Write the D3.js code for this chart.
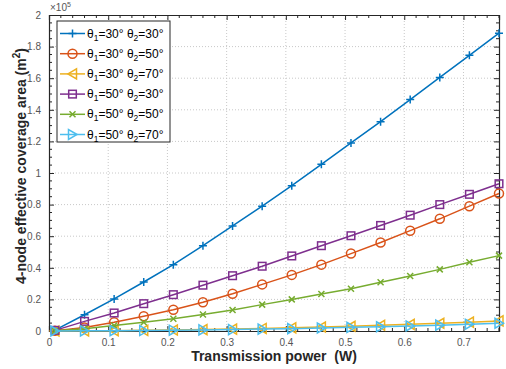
<!DOCTYPE html>
<html>
<head>
<meta charset="utf-8">
<script src="https://cdn.jsdelivr.net/npm/d3@7"></script>
<style>
  body { margin: 0; background: #fff; }
  svg { font-family: "Liberation Sans", Arial, sans-serif; }
</style>
</head>
<body>
<div id="chart"></div>
<script>
// power values (W)
const power = [0.01, 0.06, 0.11, 0.16, 0.21, 0.26, 0.31, 0.36, 0.41, 0.46, 0.51, 0.56, 0.61, 0.66, 0.71, 0.76];

// coverage area, in units of 1e5 m^2
const s30_30 = [0.005, 0.103, 0.203, 0.31, 0.42, 0.54, 0.665, 0.79, 0.92, 1.055, 1.19, 1.325, 1.465, 1.605, 1.745, 1.885];
const s30_50 = [0.002, 0.022, 0.055, 0.093, 0.135, 0.182, 0.236, 0.295, 0.355, 0.42, 0.49, 0.56, 0.635, 0.71, 0.79, 0.87];
const s30_70 = [0.0, 0.001, 0.002, 0.004, 0.006, 0.009, 0.012, 0.016, 0.02, 0.025, 0.03, 0.036, 0.042, 0.049, 0.056, 0.064];
const s50_30 = [0.004, 0.061, 0.114, 0.173, 0.23, 0.29, 0.35, 0.41, 0.475, 0.54, 0.603, 0.668, 0.733, 0.8, 0.865, 0.932];
const s50_50 = [0.001, 0.015, 0.035, 0.055, 0.078, 0.105, 0.133, 0.167, 0.2, 0.234, 0.268, 0.308, 0.348, 0.39, 0.435, 0.477];
const s50_70 = [0.0, 0.001, 0.002, 0.003, 0.005, 0.007, 0.009, 0.012, 0.015, 0.019, 0.023, 0.027, 0.032, 0.037, 0.043, 0.049];

const t1 = ["30", "30", "30", "50", "50", "50"];
const t2 = ["30", "50", "70", "30", "50", "70"];
const colors = ["#0072BD", "#D95319", "#EDB120", "#7E2F8E", "#77AC30", "#4DBEEE"];
const markers = ["plus", "circle", "tleft", "square", "x", "tright"];
const seriesValues = [s30_30, s30_50, s30_70, s50_30, s50_50, s50_70];

const xTicks = [0, 0.1, 0.2, 0.3, 0.4, 0.5, 0.6, 0.7];
const yTicks = [0, 0.2, 0.4, 0.6, 0.8, 1, 1.2, 1.4, 1.6, 1.8, 2];

const W = 506, H = 369;
const pL = 49, pR = 499, pT = 15, pB = 331;

const svg = d3.select("#chart").append("svg")
    .attr("width", W).attr("height", H);

const x = d3.scaleLinear().domain([0, 0.76]).range([pL, pR]);
const y = d3.scaleLinear().domain([0, 2]).range([pB, pT]);

const tickCol = "#262626";

// grid
const grid = svg.append("g")
    .attr("stroke", "#c8c8c8").attr("stroke-width", 1).attr("stroke-dasharray", "1,2");
xTicks.slice(1).forEach(t => {
    grid.append("line").attr("x1", x(t)).attr("x2", x(t)).attr("y1", pT).attr("y2", pB);
});
yTicks.slice(1, -1).forEach(t => {
    grid.append("line").attr("x1", pL).attr("x2", pR).attr("y1", y(t)).attr("y2", y(t));
});

// axes (ticks inward)
const xAxis = d3.axisBottom(x).tickValues(xTicks).tickSize(-5).tickPadding(8)
    .tickFormat(d => d === 0 ? "0" : d3.format(".1f")(d));
const yAxis = d3.axisLeft(y).tickValues(yTicks).tickSize(-5).tickPadding(8)
    .tickFormat(d => d === 0 || d === 1 || d === 2 ? String(d) : d3.format(".1f")(d));

const gx = svg.append("g").attr("transform", `translate(0,${pB})`).call(xAxis);
const gy = svg.append("g").attr("transform", `translate(${pL},0)`).call(yAxis);
const gxTop = svg.append("g").attr("transform", `translate(0,${pT})`)
    .call(d3.axisTop(x).tickValues(xTicks).tickSize(-5).tickFormat(""));
const gyRight = svg.append("g").attr("transform", `translate(${pR},0)`)
    .call(d3.axisRight(y).tickValues(yTicks).tickSize(-5).tickFormat(""));

// minor ticks
const xMinor = d3.range(0, 0.7601, 0.02).filter(v => Math.abs(v * 10 - Math.round(v * 10)) > 1e-6);
const yMinor = d3.range(0, 2.0001, 0.05).filter(v => Math.abs(v * 5 - Math.round(v * 5)) > 1e-6);
[[pB, -3], [pT, 3]].forEach(([yy, d]) => {
    svg.append("g").selectAll("line").data(xMinor).join("line")
        .attr("x1", v => x(v)).attr("x2", v => x(v))
        .attr("y1", yy).attr("y2", yy + d)
        .attr("stroke", tickCol);
});
[[pL, 3], [pR, -3]].forEach(([xx, d]) => {
    svg.append("g").selectAll("line").data(yMinor).join("line")
        .attr("y1", v => y(v)).attr("y2", v => y(v))
        .attr("x1", xx).attr("x2", xx + d)
        .attr("stroke", tickCol);
});

[gx, gy, gxTop, gyRight].forEach(g => {
    g.select(".domain").attr("stroke", tickCol).attr("stroke-width", 1.2);
    g.selectAll(".tick line").attr("stroke", tickCol);
    g.selectAll(".tick text").attr("fill", "#555").style("font-size", "10px");
});
gy.selectAll(".tick text").attr("dy", "0.32em");

// exponent label
const ex = svg.append("text").attr("x", 50).attr("y", 11)
    .attr("fill", "#555").style("font-size", "10px");
ex.append("tspan").text("\u00d710");
ex.append("tspan").attr("dy", -4).style("font-size", "7px").text("5");

// axis labels
svg.append("text").attr("x", 274).attr("y", 361)
    .attr("text-anchor", "middle").style("font-size", "14px").style("font-weight", "bold")
    .style("white-space", "pre")
    .attr("fill", "#262626").text("Transmission power  (W)");

const yl = svg.append("text")
    .attr("transform", `translate(26,166) rotate(-90)`)
    .attr("text-anchor", "middle").style("font-size", "14px").style("font-weight", "bold")
    .attr("fill", "#262626");
yl.append("tspan").text("4-node effective coverage area (m");
yl.append("tspan").attr("dy", -6).style("font-size", "10px").text("2");
yl.append("tspan").attr("dy", 6).text(")");

// marker drawing
function drawMarker(g, type, color, cx, cy) {
    const s = 4;
    if (type === "plus") {
        g.append("path").attr("d", `M${cx - s},${cy}H${cx + s}M${cx},${cy - s}V${cy + s}`)
            .attr("stroke", color).attr("stroke-width", 1.5).attr("fill", "none");
    } else if (type === "x") {
        const k = 3;
        g.append("path").attr("d", `M${cx - k},${cy - k}L${cx + k},${cy + k}M${cx - k},${cy + k}L${cx + k},${cy - k}`)
            .attr("stroke", color).attr("stroke-width", 1.5).attr("fill", "none");
    } else if (type === "circle") {
        g.append("circle").attr("cx", cx).attr("cy", cy).attr("r", 4.5)
            .attr("stroke", color).attr("stroke-width", 1.5).attr("fill", "none");
    } else if (type === "square") {
        g.append("rect").attr("x", cx - 3.8).attr("y", cy - 3.8).attr("width", 7.6).attr("height", 7.6)
            .attr("stroke", color).attr("stroke-width", 1.5).attr("fill", "none");
    } else if (type === "tleft") {
        g.append("path").attr("d", `M${cx - 4.5},${cy}L${cx + 4},${cy - 5}L${cx + 4},${cy + 5}Z`)
            .attr("stroke", color).attr("stroke-width", 1.5).attr("fill", "none");
    } else if (type === "tright") {
        g.append("path").attr("d", `M${cx + 4.5},${cy}L${cx - 4},${cy - 5}L${cx - 4},${cy + 5}Z`)
            .attr("stroke", color).attr("stroke-width", 1.5).attr("fill", "none");
    }
}

// series
const line = d3.line().x((d, i) => x(power[i])).y(d => y(d));
seriesValues.forEach((vals, k) => {
    const g = svg.append("g");
    g.append("path").datum(vals).attr("d", line)
        .attr("fill", "none").attr("stroke", colors[k]).attr("stroke-width", 1.5);
    vals.forEach((v, i) => drawMarker(g, markers[k], colors[k], x(power[i]), y(v)));
});

// legend
const lg = svg.append("g");
const lgX = 57, lgY = 21, lgW = 113, rowH = 20.2;
lg.append("rect").attr("x", lgX).attr("y", lgY).attr("width", lgW).attr("height", 121)
    .attr("fill", "#fff").attr("stroke", "#262626").attr("stroke-width", 1);
seriesValues.forEach((vals, k) => {
    const cy = lgY + 12.5 + k * rowH;
    lg.append("line").attr("x1", lgX + 3).attr("x2", lgX + 28).attr("y1", cy).attr("y2", cy)
        .attr("stroke", colors[k]).attr("stroke-width", 1.5);
    drawMarker(lg, markers[k], colors[k], lgX + 15.5, cy);
    const t = lg.append("text").attr("x", lgX + 30).attr("y", cy + 4)
        .style("font-size", "12px").attr("fill", "#000");
    t.append("tspan").text("\u03b8");
    t.append("tspan").attr("dy", 3).style("font-size", "8.5px").text("1");
    t.append("tspan").attr("dy", -3).text(`=${t1[k]}\u00b0 \u03b8`);
    t.append("tspan").attr("dy", 3).style("font-size", "8.5px").text("2");
    t.append("tspan").attr("dy", -3).text(`=${t2[k]}\u00b0`);
});
</script>
</body>
</html>
